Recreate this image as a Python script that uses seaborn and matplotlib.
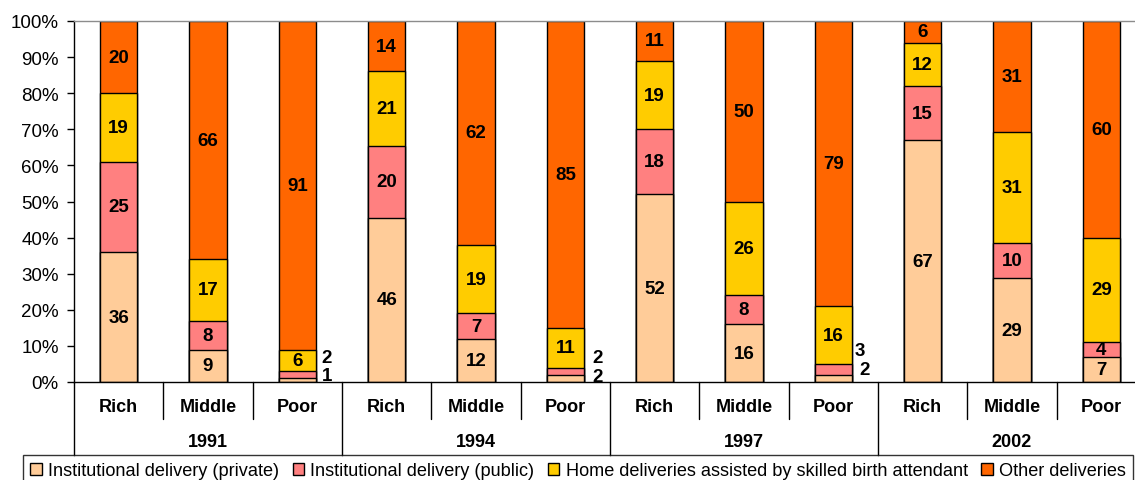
import numpy as np
import pandas as pd
import matplotlib
matplotlib.use("Agg")
import matplotlib.pyplot as plt
import matplotlib.transforms as mtransforms
from matplotlib.patches import Patch
import seaborn as sns

# Survey years and wealth groups (one bar per year/group pair)
years = ["1991", "1994", "1997", "2002"]
groups = ["Rich", "Middle", "Poor"]

# Place of delivery, percent of births per bar
series = [
    "Institutional delivery (private)",
    "Institutional delivery (public)",
    "Home deliveries assisted by skilled birth attendant",
    "Other deliveries",
]
private = [36, 9, 1, 46, 12, 2, 52, 16, 2, 67, 29, 7]
public = [25, 8, 2, 20, 7, 2, 18, 8, 3, 15, 10, 4]
home = [19, 17, 6, 21, 19, 11, 19, 26, 16, 12, 31, 29]
other = [20, 66, 91, 14, 62, 85, 11, 50, 79, 6, 31, 60]

colors = ["#FFCC99", "#FF8080", "#FFCC00", "#FF6600"]

sns.set_theme(style="white")
plt.rcParams["font.family"] = ["Liberation Sans", "DejaVu Sans"]
for key in ["text.color", "axes.labelcolor", "xtick.color", "ytick.color"]:
    plt.rcParams[key] = "black"

keys = [f"{y} {g}" for y in years for g in groups]
values = np.array([private, public, home, other], dtype=float)
shares = values / values.sum(axis=0) * 100.0
cum = np.cumsum(shares, axis=0)

df = pd.DataFrame({"bar": keys})
for i, name in enumerate(series):
    df[name] = cum[i]

fig = plt.figure(figsize=(11.35, 4.81), dpi=100)
ax = fig.add_axes([74 / 1135, 98 / 481, 1072 / 1135, 361 / 481])

# Stack by overdrawing cumulative totals, tallest first
for i in range(len(series) - 1, -1, -1):
    sns.barplot(data=df, x="bar", y=series[i], order=keys, color=colors[i],
                width=0.415, edgecolor="black", linewidth=1.0,
                errorbar=None, saturation=1, ax=ax)

ax.set_xlim(-0.5, len(keys) - 0.5)
ax.set_ylim(0, 100)
ax.set_yticks(np.arange(0, 101, 10))
ax.set_yticklabels([f"{t}%" for t in range(0, 101, 10)], fontsize=13.5)
ax.tick_params(axis="y", which="both", left=True, length=5, width=1,
               pad=6, color="black", direction="out")
ax.set_xticks([])
ax.set_xlabel("")
ax.set_ylabel("")
for side in ["left", "bottom"]:
    ax.spines[side].set_color("black")
    ax.spines[side].set_linewidth(1)
ax.spines["top"].set_color("#8C8C8C")
ax.spines["top"].set_linewidth(1)
ax.spines["right"].set_visible(False)

# Segment value labels
label_size = 13.5
outside = {
    (2, 0): (1.7, 3), (2, 1): (6.9, 3),
    (5, 0): (1.4, 6), (5, 1): (6.9, 6),
    (8, 0): (3.6, 5), (8, 1): (8.6, 0),
}
for b in range(len(keys)):
    for s in range(len(series)):
        v = values[s, b]
        lo = cum[s, b] - shares[s, b]
        mid = lo + shares[s, b] / 2
        if (b, s) in outside:
            y, dx = outside[(b, s)]
            ax.annotate(f"{v:g}", xy=(b + 0.2075, y), xytext=(2 + dx * 0.72, 0),
                        textcoords="offset points", ha="left", va="center",
                        fontsize=label_size, fontweight="bold")
        else:
            ax.text(b, mid, f"{v:g}", ha="center", va="center",
                    fontsize=label_size, fontweight="bold")

# Two-level category axis below the plot
trans = mtransforms.blended_transform_factory(ax.transData, ax.transAxes)
short_drop = -37 / 361
long_drop = -74 / 361
for k in range(len(keys) + 1):
    bottom = long_drop if k % 3 == 0 else short_drop
    ax.plot([k - 0.5, k - 0.5], [0, bottom], transform=trans, color="black",
            linewidth=1, clip_on=False)
for b, key in enumerate(keys):
    ax.text(b, -25 / 361, groups[b % 3], transform=trans, ha="center",
            va="center", fontsize=13, fontweight="bold")
for j, yr in enumerate(years):
    ax.text(3 * j + 1, -60 / 361, yr, transform=trans, ha="center",
            va="center", fontsize=13, fontweight="bold")

handles = [Patch(facecolor=c, edgecolor="black", linewidth=1) for c in colors]
leg = fig.legend(handles, series, loc="upper left", ncol=4,
                 bbox_to_anchor=(23 / 1135, 1 - 456 / 481),
                 fontsize=13.1, frameon=True, fancybox=False, shadow=False,
                 handlelength=0.62, handleheight=0.62, handletextpad=0.35,
                 columnspacing=0.75, borderpad=0.4, borderaxespad=0.0)
leg.get_frame().set_edgecolor("black")
leg.get_frame().set_linewidth(1)

fig.savefig("out.png", dpi=100)
